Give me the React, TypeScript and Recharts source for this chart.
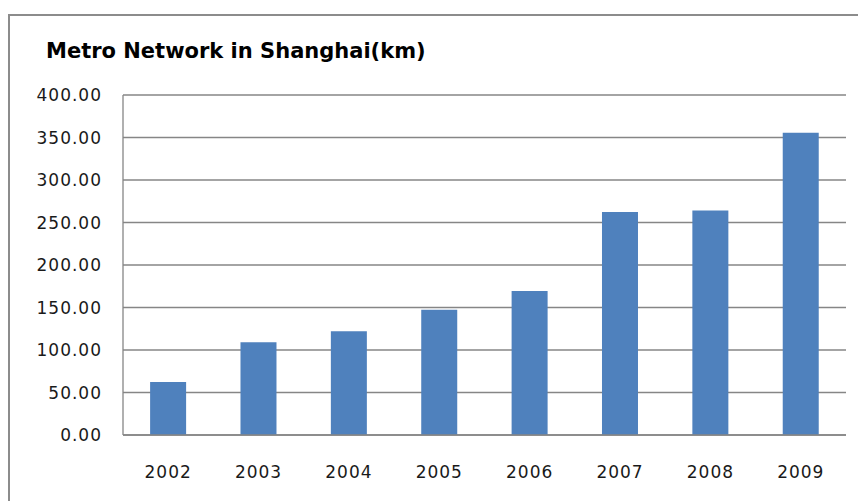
import { BarChart, Bar, XAxis, YAxis, CartesianGrid } from "recharts";

const years = ["2002", "2003", "2004", "2005", "2006", "2007", "2008", "2009"];
const lengthKm = [62.5, 109, 122, 147.5, 169.5, 262.5, 264, 355.5];
const yTicks = [0, 50, 100, 150, 200, 250, 300, 350, 400];

const data = years.map((year, i) => ({ year, km: lengthKm[i] }));

const GRID = "#868686";
const tickFont = {
  fontSize: 17,
  fill: "#1a1a1a",
  fontFamily: "DejaVu Sans",
  letterSpacing: 1,
};

export default function App() {
  return (
    <div
      style={{
        position: "absolute",
        left: 0,
        top: 0,
        width: 858,
        height: 501,
        background: "#fff",
        overflow: "hidden",
      }}
    >
      <BarChart
        width={858}
        height={501}
        data={data}
        margin={{ top: 95, right: 12, bottom: 0, left: 23 }}
        barCategoryGap="30%"
      >
        <CartesianGrid vertical={false} stroke={GRID} strokeWidth={1.3} />
        <XAxis
          dataKey="year"
          height={66}
          stroke={GRID}
          strokeWidth={1.3}
          tickLine={false}
          tickSize={0}
          tickMargin={31}
          tick={tickFont}
        />
        <YAxis
          domain={[0, 400]}
          ticks={yTicks}
          width={100}
          stroke={GRID}
          strokeWidth={1.3}
          tickLine={false}
          tickSize={0}
          tickMargin={21}
          tick={tickFont}
          tickFormatter={(v) => Number(v).toFixed(2)}
        />
        <Bar dataKey="km" fill="#4F81BD" isAnimationActive={false} />
      </BarChart>
      <svg
        width={858}
        height={501}
        style={{ position: "absolute", left: 0, top: 0, pointerEvents: "none" }}
      >
        <path d="M9 501 V15 H858" fill="none" stroke="#8c8c8c" strokeWidth={2} />
        <text
          x={46}
          y={58}
          fontFamily="DejaVu Sans"
          fontWeight="bold"
          fontSize={21}
          fill="#000"
        >
          Metro Network in Shanghai(km)
        </text>
      </svg>
    </div>
  );
}
